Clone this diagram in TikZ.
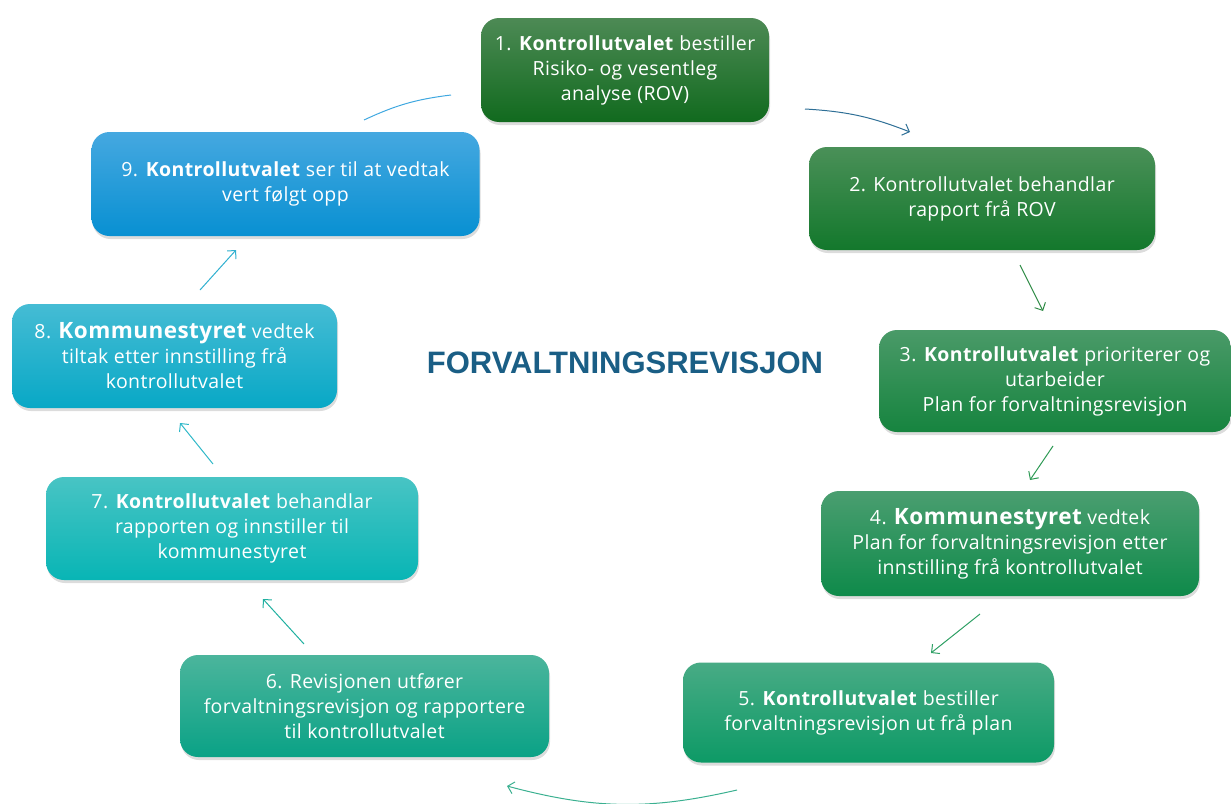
\documentclass[tikz,border=0pt]{standalone}
\usepackage{fontspec}
\setmainfont{Open Sans}[LetterSpace=2]
\newfontfamily\titlefont{Liberation Sans}
\usetikzlibrary{arrows.meta,shadows}
\definecolor{t1}{HTML}{4D8A55}\definecolor{m1}{HTML}{1E6F26}\definecolor{b1}{HTML}{116A1E}
\definecolor{t2}{HTML}{4A9058}\definecolor{m2}{HTML}{1F7D35}\definecolor{b2}{HTML}{13782C}
\definecolor{t3}{HTML}{4A9A68}\definecolor{m3}{HTML}{1F8A45}\definecolor{b3}{HTML}{16843F}
\definecolor{t4}{HTML}{4A9E70}\definecolor{m4}{HTML}{17914F}\definecolor{b4}{HTML}{0E8A4A}
\definecolor{t5}{HTML}{48AB85}\definecolor{m5}{HTML}{17A06C}\definecolor{b5}{HTML}{0D9A66}
\definecolor{t6}{HTML}{4BB59C}\definecolor{m6}{HTML}{14A78B}\definecolor{b6}{HTML}{0AA286}
\definecolor{t7}{HTML}{48C4C4}\definecolor{m7}{HTML}{14C0C0}\definecolor{b7}{HTML}{08B5B5}
\definecolor{t8}{HTML}{45BCD4}\definecolor{m8}{HTML}{14B4D0}\definecolor{b8}{HTML}{08A8C6}
\definecolor{t9}{HTML}{45A8E0}\definecolor{m9}{HTML}{1A9CE0}\definecolor{b9}{HTML}{0890D2}
\definecolor{titleblue}{HTML}{1A5E85}
\definecolor{a1}{HTML}{2E6F96}\definecolor{a2}{HTML}{2E8B45}\definecolor{a3}{HTML}{2E9A55}
\definecolor{a4}{HTML}{2FA065}\definecolor{a5}{HTML}{3AB090}\definecolor{a6}{HTML}{20B0A0}
\definecolor{a7}{HTML}{30B8C8}\definecolor{a8}{HTML}{30B0D0}\definecolor{a9}{HTML}{40A8E0}
\tikzset{
  stepbox/.style n args={3}{rounded corners=18pt, inner sep=4pt, text=white, align=center,
    font=\fontsize{19.5}{25}\selectfont,
    top color=#1, middle color=#2, bottom color=#3,
    drop shadow={opacity=0.28, shadow xshift=1pt, shadow yshift=-3pt}},
  flow/.style={-{Straight Barb[length=6pt,width=12pt]}, line width=1pt},
}
\newcommand{\bigbold}[1]{{\fontsize{22.5}{25}\selectfont\bfseries #1}}
\begin{document}
\begin{tikzpicture}[x=1pt,y=-1pt]
\useasboundingbox (0,0) rectangle (1231,803);
\node[stepbox={t1}{m1}{b1}, minimum width=288pt, minimum height=104pt] (n1) at (625,70)
  {1. \textbf{Kontrollutvalet} bestiller\\Risiko- og vesentleg\\analyse (ROV)};
\node[stepbox={t2}{m2}{b2}, minimum width=346pt, minimum height=103pt] (n2) at (982,198.5)
  {2. Kontrollutvalet behandlar\\rapport frå ROV};
\node[stepbox={t3}{m3}{b3}, minimum width=352pt, minimum height=102pt] (n3) at (1055,381)
  {3. \textbf{Kontrollutvalet} prioriterer og\\utarbeider\\Plan for forvaltningsrevisjon};
\node[stepbox={t4}{m4}{b4}, minimum width=378pt, minimum height=105pt] (n4) at (1010,543.5)
  {4. \bigbold{Kommunestyret} vedtek\\Plan for forvaltningsrevisjon etter\\innstilling frå kontrollutvalet};
\node[stepbox={t5}{m5}{b5}, minimum width=371pt, minimum height=100pt] (n5) at (868.5,712.5)
  {5. \textbf{Kontrollutvalet} bestiller\\forvaltningsrevisjon ut frå plan};
\node[stepbox={t6}{m6}{b6}, minimum width=369pt, minimum height=102pt] (n6) at (364.5,706)
  {6. Revisjonen utfører\\forvaltningsrevisjon og rapportere\\til kontrollutvalet};
\node[stepbox={t7}{m7}{b7}, minimum width=372pt, minimum height=103pt] (n7) at (232,528.5)
  {7. \textbf{Kontrollutvalet} behandlar\\rapporten og innstiller til\\kommunestyret};
\node[stepbox={t8}{m8}{b8}, minimum width=325pt, minimum height=104pt] (n8) at (174.5,356)
  {8. \bigbold{Kommunestyret} vedtek\\tiltak etter innstilling frå\\kontrollutvalet};
\node[stepbox={t9}{m9}{b9}, minimum width=388pt, minimum height=104pt] (n9) at (285.5,184)
  {9. \textbf{Kontrollutvalet} ser til at vedtak\\vert følgt opp};
\node[font=\titlefont\bfseries\fontsize{31}{33}\selectfont, text=titleblue] (title) at (625,363)
  {FORVALTNINGSREVISJON};
% connector end points
\coordinate (s12) at (805,109); \coordinate (e12) at (910,132);
\coordinate (s23) at (1020,265); \coordinate (e23) at (1043,311);
\coordinate (s34) at (1053,446); \coordinate (e34) at (1030,480);
\coordinate (s45) at (980,614); \coordinate (e45) at (931,653);
\coordinate (s56) at (737,790); \coordinate (e56) at (507,786);
\coordinate (s67) at (304,644); \coordinate (e67) at (263,599);
\coordinate (s78) at (213,464); \coordinate (e78) at (180,423);
\coordinate (s89) at (200,290); \coordinate (e89) at (236,250);
\coordinate (s91) at (364,120); \coordinate (e91) at (451,95);
\draw[flow, a1] (s12) to[bend left=9] (e12);
\draw[flow, a2] (s23) -- (e23);
\draw[flow, a3] (s34) -- (e34);
\draw[flow, a4] (s45) -- (e45);
\draw[flow, a5] (s56) to[bend left=14] (e56);
\draw[flow, a6] (s67) -- (e67);
\draw[flow, a7] (s78) -- (e78);
\draw[flow, a8] (s89) -- (e89);
\draw[line width=1pt, a9] (s91) to[bend left=9] (e91);
\end{tikzpicture}
\end{document}
